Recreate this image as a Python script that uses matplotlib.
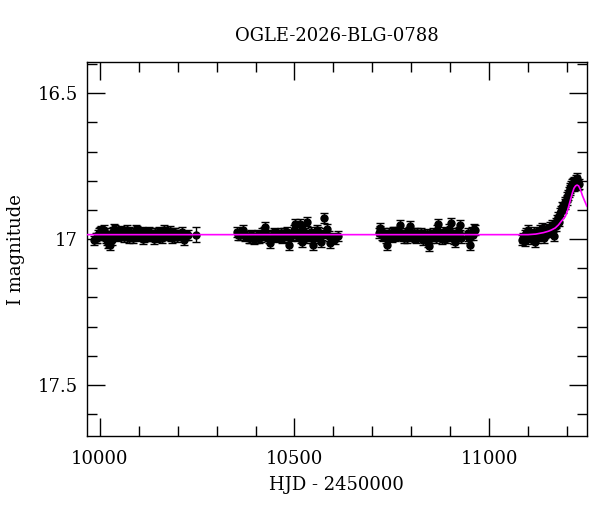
import numpy as np
import matplotlib
matplotlib.use("Agg")
import matplotlib.pyplot as plt
from matplotlib.ticker import MultipleLocator

plt.rcParams['font.family'] = ['DejaVu Serif']

# --- photometry (HJD - 2450000, I mag) ---
s1_t = [9985, 9989, 9992, 9995, 9998, 10001, 10003, 10006, 10008, 10010,
        10012, 10015, 10017, 10019, 10021, 10023, 10025, 10028, 10030, 10032,
        10034, 10036, 10038, 10041, 10043, 10045, 10047, 10050, 10052, 10054,
        10056, 10059, 10061, 10064, 10066, 10069, 10071, 10074, 10076, 10078,
        10080, 10083, 10085, 10088, 10090, 10093, 10095, 10098, 10100, 10103,
        10106, 10109, 10111, 10114, 10116, 10119, 10122, 10125, 10127, 10130,
        10133, 10136, 10138, 10141, 10144, 10147, 10150, 10153, 10156, 10159,
        10162, 10165, 10168, 10172, 10175, 10179, 10182, 10186, 10190, 10194,
        10198, 10203, 10207, 10212, 10216, 10221, 10226, 10248]
s1_m = [17.005, 16.998, 16.995, 16.985, 16.978, 16.975, 16.972, 16.982, 16.985, 16.970,
        16.980, 16.995, 16.990, 17.005, 17.015, 17.010, 17.020, 16.992, 17.005, 16.978,
        16.975, 16.965, 16.968, 16.980, 16.985, 16.975, 16.990, 16.982, 16.980, 16.972,
        16.975, 16.988, 16.992, 16.978, 16.982, 16.970, 16.988, 16.995, 16.976, 16.985,
        16.985, 16.990, 16.995, 16.978, 16.980, 16.968, 16.972, 16.985, 16.990, 16.980,
        16.985, 16.975, 17.000, 16.992, 16.978, 16.985, 16.982, 16.990, 16.975, 16.980,
        16.990, 16.985, 17.000, 16.978, 16.985, 16.992, 16.978, 16.975, 16.990, 16.995,
        16.982, 16.970, 16.975, 16.988, 16.985, 16.972, 16.990, 16.995, 16.980, 16.978,
        16.992, 16.985, 16.985, 16.975, 17.005, 16.988, 16.985, 16.985]

s2_t = [10352, 10356, 10360, 10364, 10369, 10373, 10378, 10382, 10386, 10389,
        10393, 10396, 10400, 10403, 10407, 10410, 10414, 10417, 10420, 10423,
        10425, 10428, 10431, 10434, 10438, 10441, 10445, 10448, 10451, 10454,
        10458, 10461, 10465, 10468, 10471, 10474, 10477, 10480, 10482, 10487,
        10490, 10494, 10498, 10502, 10505, 10508, 10511, 10515, 10518, 10520,
        10523, 10526, 10530, 10533, 10537, 10540, 10543, 10546, 10548, 10551,
        10554, 10557, 10560, 10564, 10567, 10571, 10575, 10579, 10584, 10588,
        10592, 10598, 10605, 10612]
s2_m = [16.975, 16.985, 16.985, 16.978, 16.970, 16.990, 16.988, 16.995, 16.995, 16.985,
        16.990, 17.000, 16.997, 16.988, 16.985, 16.995, 16.992, 16.980, 16.988, 16.975,
        16.958, 16.985, 16.990, 16.995, 17.014, 16.990, 16.985, 16.978, 16.982, 16.992,
        16.990, 16.985, 16.978, 16.995, 16.992, 16.980, 16.985, 16.975, 16.988, 17.020,
        16.990, 16.985, 16.970, 16.950, 16.985, 16.990, 16.975, 16.950, 16.995, 17.010,
        16.968, 16.980, 16.995, 16.940, 16.990, 16.985, 16.975, 16.998, 17.020, 16.990,
        16.985, 16.970, 16.975, 16.995, 17.010, 16.985, 16.928, 16.978, 16.965, 16.990,
        17.015, 16.995, 17.000, 16.990]

s3_t = [10716, 10719, 10721, 10724, 10727, 10730, 10732, 10735, 10738, 10741,
        10744, 10747, 10750, 10752, 10755, 10758, 10761, 10764, 10766, 10769,
        10772, 10775, 10778, 10781, 10784, 10787, 10790, 10793, 10795, 10798,
        10801, 10804, 10807, 10810, 10813, 10816, 10819, 10822, 10825, 10828,
        10831, 10834, 10837, 10840, 10843, 10845, 10848, 10851, 10854, 10857,
        10860, 10863, 10866, 10870, 10873, 10876, 10879, 10882, 10885, 10888,
        10891, 10894, 10897, 10901, 10904, 10907, 10910, 10913, 10916, 10919,
        10922, 10926, 10929, 10945, 10947, 10949, 10952, 10955, 10958, 10962,
        10965]
s3_m = [16.980, 16.972, 16.963, 16.985, 16.990, 16.978, 16.985, 16.995, 17.020, 16.990,
        16.978, 16.985, 16.992, 16.975, 16.975, 16.990, 16.988, 16.980, 16.982, 16.975,
        16.953, 16.985, 16.990, 16.995, 16.978, 16.985, 16.995, 16.982, 16.975, 16.955,
        16.990, 16.985, 16.978, 16.992, 16.998, 16.978, 16.985, 16.990, 16.980, 16.985,
        17.005, 16.998, 16.990, 16.982, 17.010, 17.025, 16.995, 16.990, 16.985, 16.978,
        16.988, 16.995, 16.970, 16.950, 16.990, 16.985, 17.000, 16.992, 16.975, 16.980,
        16.995, 16.990, 16.965, 16.945, 16.988, 16.985, 17.000, 17.010, 16.980, 16.990,
        16.975, 16.953, 16.995, 16.990, 16.980, 16.995, 17.020, 16.975, 16.985, 16.965,
        16.970]

s4_t = [11085, 11088, 11091, 11093, 11096, 11099, 11101, 11104, 11107, 11110,
        11113, 11116, 11119, 11122, 11125, 11127, 11130, 11133, 11136, 11139,
        11142, 11144, 11147, 11150, 11153, 11156, 11159, 11162, 11165, 11168,
        11171, 11173, 11175, 11178, 11180, 11183, 11186, 11188, 11191, 11194,
        11196, 11199, 11201, 11203, 11205, 11207, 11209, 11211, 11213, 11215,
        11217, 11219, 11221, 11222, 11224, 11226, 11228, 11230]
s4_m = [17.003, 16.995, 17.008, 16.986, 16.980, 16.990, 16.969, 16.985, 17.000, 16.992,
        16.985, 16.975, 17.009, 16.995, 16.988, 16.980, 16.970, 16.990, 16.963, 16.975,
        16.995, 16.980, 16.965, 16.975, 16.969, 16.958, 16.972, 16.952, 16.960, 16.990,
        16.945, 16.955, 16.935, 16.925, 16.940, 16.912, 16.905, 16.889, 16.895, 16.880,
        16.872, 16.865, 16.855, 16.849, 16.838, 16.832, 16.826, 16.818, 16.812, 16.809,
        16.820, 16.805, 16.815, 16.798, 16.805, 16.792, 16.815, 16.810]

# --- model curve ---
model_t = [9967, 11100, 11120, 11140, 11153, 11160, 11170, 11178, 11185, 11190,
           11196, 11202, 11209, 11214, 11218, 11222, 11226, 11230, 11235, 11240,
           11245, 11251]
model_m = [16.985, 16.985, 16.983, 16.978, 16.973, 16.969, 16.962, 16.952, 16.940, 16.932,
           16.922, 16.900, 16.866, 16.842, 16.826, 16.818, 16.815, 16.818, 16.832, 16.852,
           16.868, 16.887]

t = np.array(s1_t + s2_t + s3_t + s4_t, dtype=float)
mag = np.array(s1_m + s2_m + s3_m + s4_m)
err = np.full_like(mag, 0.017)
err[len(s1_t) - 1] = 0.026

fig = plt.figure(figsize=(6.0, 5.12), dpi=100)
ax = fig.add_axes([0.145, 0.148, 0.833, 0.731])

ax.plot(model_t, model_m, color='magenta', lw=1.2, zorder=3)
ax.errorbar(t, mag, yerr=err, fmt='o', color='black', ms=5,
            elinewidth=1.0, capsize=3, capthick=1.0, zorder=2)

ax.set_xlim(9967, 11251)
ax.set_ylim(17.676, 16.393)

ax.xaxis.set_major_locator(MultipleLocator(500))
ax.xaxis.set_minor_locator(MultipleLocator(100))
ax.yaxis.set_major_locator(MultipleLocator(0.5))
ax.yaxis.set_minor_locator(MultipleLocator(0.1))
ax.yaxis.set_major_formatter(plt.FuncFormatter(lambda v, p: f"{v:g}"))

ax.tick_params(which='both', direction='in', top=True, right=True, width=1.0,
               labelsize=13)
ax.tick_params(axis='x', pad=10)
ax.tick_params(axis='y', pad=6.5)
ax.tick_params(which='major', length=13)
ax.tick_params(which='minor', length=7)
for s in ax.spines.values():
    s.set_linewidth(1.0)

ax.set_xlabel("HJD - 2450000", fontsize=13, labelpad=6)
ax.set_ylabel("I magnitude", fontsize=13, labelpad=9)
ax.set_title("OGLE-2026-BLG-0788", fontsize=13, pad=15)

fig.savefig("out.png", dpi=100)
